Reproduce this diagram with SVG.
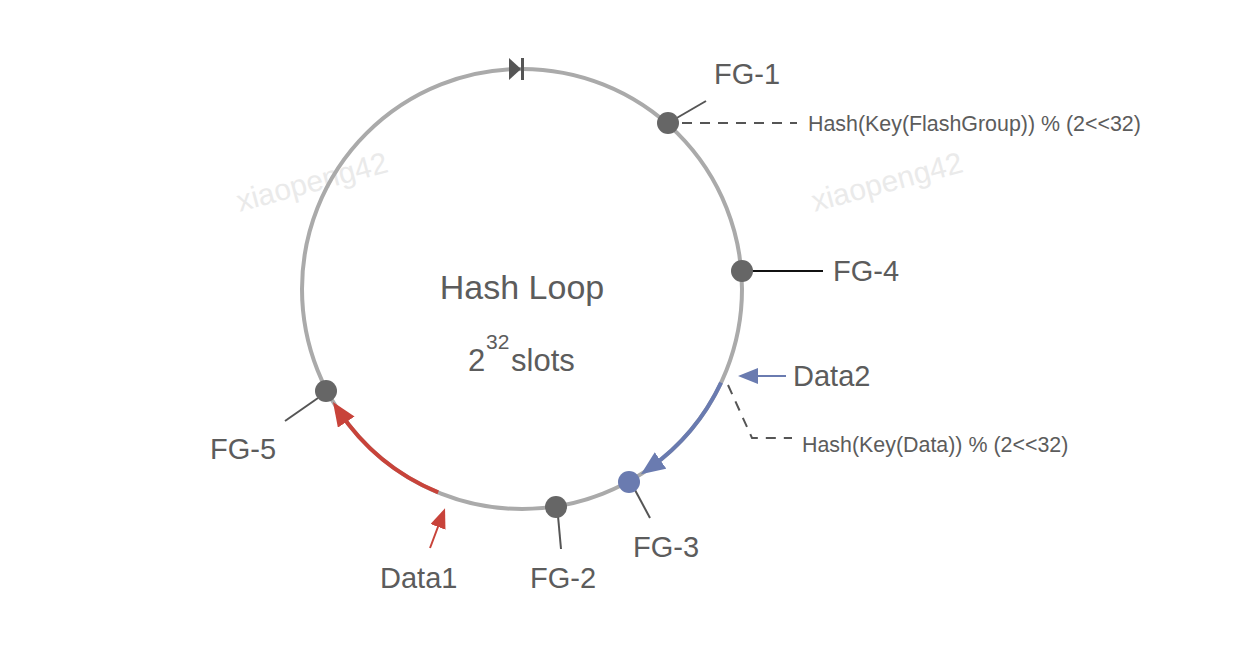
<svg xmlns="http://www.w3.org/2000/svg" width="1235" height="664" viewBox="0 0 1235 664">
<style>
.lbl{font-family:"Liberation Sans",Arial,sans-serif;font-size:29px;fill:#5c5c5c}
.small{font-family:"Liberation Sans",Arial,sans-serif;font-size:21.4px;fill:#5c5c5c}
.wm{font-family:"Liberation Sans",Arial,sans-serif;font-size:30px;fill:#eaeaea}
.dot{fill:#666}
.lead{stroke:#555;stroke-width:2;fill:none}
.dash{stroke:#555;stroke-width:2;fill:none;stroke-dasharray:10 8}
</style>
<defs>
<marker id="bigBlue" markerUnits="userSpaceOnUse" markerWidth="24" markerHeight="20" refX="14" refY="10" orient="auto"><path d="M0,0 L24,10 L0,20 z" fill="#6a7bb0"/></marker>
<marker id="bigRed" markerUnits="userSpaceOnUse" markerWidth="24" markerHeight="20" refX="14" refY="10" orient="auto"><path d="M0,0 L24,10 L0,20 z" fill="#c8433a"/></marker>
<marker id="smBlue" markerUnits="userSpaceOnUse" markerWidth="20" markerHeight="16" refX="10" refY="8" orient="auto"><path d="M0,0 L20,8 L0,16 z" fill="#6a7bb0"/></marker>
<marker id="smRed" markerUnits="userSpaceOnUse" markerWidth="20" markerHeight="16" refX="10" refY="8" orient="auto"><path d="M0,0 L20,8 L0,16 z" fill="#c8433a"/></marker>
</defs>
<rect width="1235" height="664" fill="#fff"/>
<g id="watermarks">
<text class="wm" x="312" y="192" text-anchor="middle" transform="rotate(-15 312 182)">xiaopeng42</text>
<text class="wm" x="887" y="192" text-anchor="middle" transform="rotate(-15 887 182)">xiaopeng42</text>
</g>
<g id="loop">
<circle cx="522" cy="289" r="220" fill="none" stroke="#aaa" stroke-width="4"/>
<polygon points="509,58 509,80 521,69" fill="#555"/>
<rect x="521" y="58" width="3" height="22" fill="#555"/>
<text class="lbl" x="522" y="299" text-anchor="middle" style="font-size:34px">Hash Loop</text>
<text class="lbl" x="468" y="371" style="font-size:31px">2</text>
<text class="lbl" x="486" y="349" style="font-size:21px">32</text>
<text class="lbl" x="511" y="371" style="font-size:31px">slots</text>
</g>
<g id="connectors">
<path d="M721.1,382.7 A220,220 0 0 1 649.1,468.5" fill="none" stroke="#6a7bb0" stroke-width="4" marker-end="url(#bigBlue)"/>
<path d="M438.2,492.4 A220,220 0 0 1 338.5,410.4" fill="none" stroke="#c8433a" stroke-width="4" marker-end="url(#bigRed)"/>
<line x1="786" y1="376" x2="748" y2="376" stroke="#6a7bb0" stroke-width="2" marker-end="url(#smBlue)"/>
<line x1="430" y1="548" x2="441.5" y2="517.5" stroke="#c8433a" stroke-width="2" marker-end="url(#smRed)"/>
<line class="dash" x1="682" y1="123" x2="797" y2="123"/>
<polyline class="dash" points="728,385 752,438 792,438"/>
<line class="lead" x1="675" y1="119" x2="706" y2="101"/>
<line x1="752" y1="271" x2="823" y2="271" stroke="#111" stroke-width="2"/>
<line class="lead" x1="635" y1="490" x2="650" y2="518"/>
<line class="lead" x1="558" y1="516" x2="561" y2="549"/>
<line class="lead" x1="318" y1="398" x2="285" y2="421"/>
</g>
<g id="FG-1"><circle class="dot" cx="668" cy="123" r="11"/><text class="lbl" x="714" y="84">FG-1</text></g>
<g id="hash-fg"><text class="small" x="808" y="131">Hash(Key(FlashGroup)) % (2&lt;&lt;32)</text></g>
<g id="FG-4"><circle class="dot" cx="742" cy="271" r="11"/><text class="lbl" x="833" y="281">FG-4</text></g>
<g id="Data2"><text class="lbl" x="793" y="386">Data2</text></g>
<g id="hash-data"><text class="small" x="802" y="452">Hash(Key(Data)) % (2&lt;&lt;32)</text></g>
<g id="FG-3"><circle cx="629" cy="482" r="11" fill="#6a7bb0"/><text class="lbl" x="633" y="557">FG-3</text></g>
<g id="FG-2"><circle class="dot" cx="556" cy="507" r="11"/><text class="lbl" x="530" y="588">FG-2</text></g>
<g id="Data1"><text class="lbl" x="380" y="588">Data1</text></g>
<g id="FG-5"><circle class="dot" cx="326" cy="391" r="11"/><text class="lbl" x="210" y="459">FG-5</text></g>
</svg>
